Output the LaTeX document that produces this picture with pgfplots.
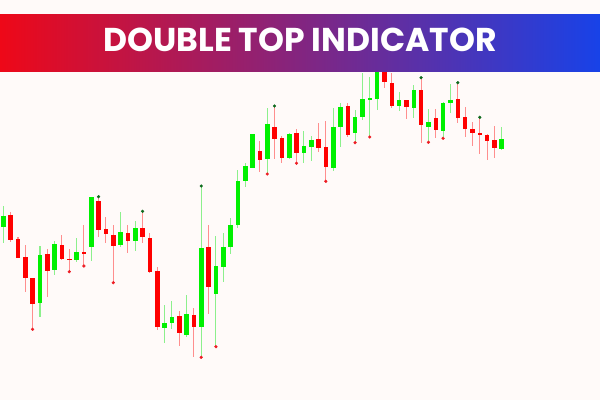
\documentclass[border=0pt]{standalone}
\usepackage{pgfplots}
\pgfplotsset{compat=1.18}
\usepackage{pgfplotstable}
\usepackage{fontspec}
\newfontfamily\titlefont{Poppins}

\definecolor{bgcol}{HTML}{FFFAF9}
\definecolor{bullbody}{HTML}{00F000}
\definecolor{bearbody}{HTML}{FF0000}
\definecolor{bullwick}{HTML}{8CF08C}
\definecolor{bearwick}{HTML}{FF8E8E}
\definecolor{topdot}{HTML}{0E6A1E}
\definecolor{lowdot}{HTML}{EE1C24}
\definecolor{bannerleft}{HTML}{EE0818}
\definecolor{bannerright}{HTML}{1842E8}

% candles: x, body top, body bottom, high, low
\pgfplotstableread{
x     top    bot    hi     lo
3.3   184.3  172.7  194.0  156.7
40.0  145.0  96.7   154.3  82.7
54.6  156.0  129.7  159.3  125.0
76.6  147.7  139.7  161.7  138.3
91.3  202.7  153.3  202.7  139.0
120.6 167.7  155.0  188.0  153.3
135.2 171.7  159.0  179.0  149.3
164.6 77.0   72.3   95.0   56.7
171.9 83.3   76.7   99.3   71.0
186.6 86.0   65.0   104.7  63.3
201.2 152.3  73.0   214.0  42.7
215.9 134.0  106.3  164.0  53.3
223.2 153.3  133.3  166.7  118.3
230.5 175.0  152.7  182.3  146.0
237.9 219.0  175.0  230.0  172.3
245.2 234.0  219.3  237.3  213.3
252.5 266.0  232.3  266.0  232.3
267.2 276.0  240.7  291.7  226.0
289.2 266.0  242.3  267.3  241.3
303.8 254.0  247.0  269.0  237.3
311.2 260.0  253.3  264.0  239.0
333.2 273.3  232.3  291.7  229.3
340.5 293.3  273.3  296.7  253.3
355.1 282.7  267.3  290.0  257.3
362.5 301.0  283.3  327.3  280.0
369.8 302.0  300.5  323.3  263.0
377.1 335.0  301.0  340.0  290.0
399.1 300.0  294.3  307.7  289.3
413.8 310.0  292.3  315.0  282.3
428.4 278.3  273.3  290.7  259.0
443.1 297.3  269.3  298.3  262.7
450.4 300.0  297.3  316.0  286.7
501.7 260.7  251.0  272.7  250.0
}\bullcandles

\pgfplotstableread{
x     top    bot    hi     lo
10.6  184.7  160.0  188.0  158.3
18.0  161.3  142.3  163.3  141.7
25.3  143.0  122.3  155.0  108.3
32.6  122.3  96.3   122.3  70.7
47.3  146.0  129.3  150.7  103.3
61.9  155.0  140.7  165.0  140.0
69.3  141.3  140.0  150.7  128.3
83.9  148.3  146.3  175.0  134.0
98.6  199.0  170.0  203.3  162.7
105.9 171.0  166.3  183.3  157.3
113.3 165.0  154.3  175.0  117.3
127.9 167.0  159.0  175.0  147.3
142.6 172.3  162.7  188.7  156.7
149.9 162.3  128.0  166.7  127.3
157.2 128.7  73.3   132.7  70.0
179.2 84.0   67.3   89.0   54.3
193.9 85.5   73.0   92.0   43.3
208.5 153.3  113.3  175.0  85.7
259.9 249.0  239.7  259.0  227.7
274.5 273.3  261.3  294.0  240.7
281.8 262.0  241.7  264.0  237.3
296.5 267.3  247.0  271.0  236.7
318.5 261.0  252.3  277.3  248.3
325.8 253.3  233.0  279.0  218.7
347.8 294.3  265.3  297.3  263.3
384.5 334.0  318.3  340.0  311.7
391.8 317.3  294.3  327.3  292.3
406.5 300.0  292.7  300.0  281.0
421.1 310.0  275.3  322.3  257.3
435.8 281.7  270.0  290.7  261.7
457.8 301.0  282.3  317.3  277.3
465.1 282.7  271.0  293.3  263.3
472.4 270.7  267.3  278.3  254.0
479.8 267.3  265.3  282.7  245.7
487.1 265.0  259.0  266.0  240.0
494.4 260.0  251.7  274.0  242.3
}\bearcandles

\begin{document}
\begin{tikzpicture}
\begin{axis}[
    width=600pt, height=400pt,
    scale only axis,
    xmin=0, xmax=600,
    ymin=0, ymax=400,
    hide axis,
]
\fill[bgcol] (axis cs:0,0) rectangle (axis cs:600,400);

% wicks
\addplot[draw=none, mark=none, forget plot,
    error bars/.cd, y dir=both, y explicit, error mark=none,
    error bar style={line width=1.1pt, draw=bullwick}]
    table[x=x, y expr={(\thisrow{hi}+\thisrow{lo})/2},
          y error expr={(\thisrow{hi}-\thisrow{lo})/2}] {\bullcandles};
\addplot[draw=none, mark=none, forget plot,
    error bars/.cd, y dir=both, y explicit, error mark=none,
    error bar style={line width=1.1pt, draw=bearwick}]
    table[x=x, y expr={(\thisrow{hi}+\thisrow{lo})/2},
          y error expr={(\thisrow{hi}-\thisrow{lo})/2}] {\bearcandles};

% bodies
\addplot[draw=none, mark=none, forget plot,
    error bars/.cd, y dir=both, y explicit, error mark=none,
    error bar style={line width=4.6pt, draw=bullbody}]
    table[x=x, y expr={(\thisrow{top}+\thisrow{bot})/2},
          y error expr={max((\thisrow{top}-\thisrow{bot})/2,0.6)}] {\bullcandles};
\addplot[draw=none, mark=none, forget plot,
    error bars/.cd, y dir=both, y explicit, error mark=none,
    error bar style={line width=4.6pt, draw=bearbody}]
    table[x=x, y expr={(\thisrow{top}+\thisrow{bot})/2},
          y error expr={max((\thisrow{top}-\thisrow{bot})/2,0.6)}] {\bearcandles};

% indicator dots: tops and bottoms
\addplot[only marks, mark=*, mark size=1.4pt, topdot, forget plot]
    coordinates {(98.6,203.3) (142.6,188.7) (201.2,214.0) (274.5,294.0)
                 (421.1,322.3) (457.8,317.3) (479.8,282.7)};
\addplot[only marks, mark=*, mark size=1.4pt, lowdot, forget plot]
    coordinates {(32.6,70.7) (69.3,128.3) (83.9,134.0) (113.3,117.3)
                 (201.2,42.7) (215.9,53.3) (267.2,226.0) (296.5,236.7)
                 (325.8,218.7) (355.1,257.3) (369.8,263.0) (428.4,257.7)
                 (443.1,261.7)};

% title banner
\fill[left color=bannerleft, right color=bannerright]
    (axis cs:0,328.5) rectangle (axis cs:600,385.5);
\node[text=white, font=\titlefont\bfseries\fontsize{33}{36}\selectfont]
    at (axis cs:300,359.7) {DOUBLE TOP INDICATOR};
\end{axis}
\end{tikzpicture}
\end{document}
